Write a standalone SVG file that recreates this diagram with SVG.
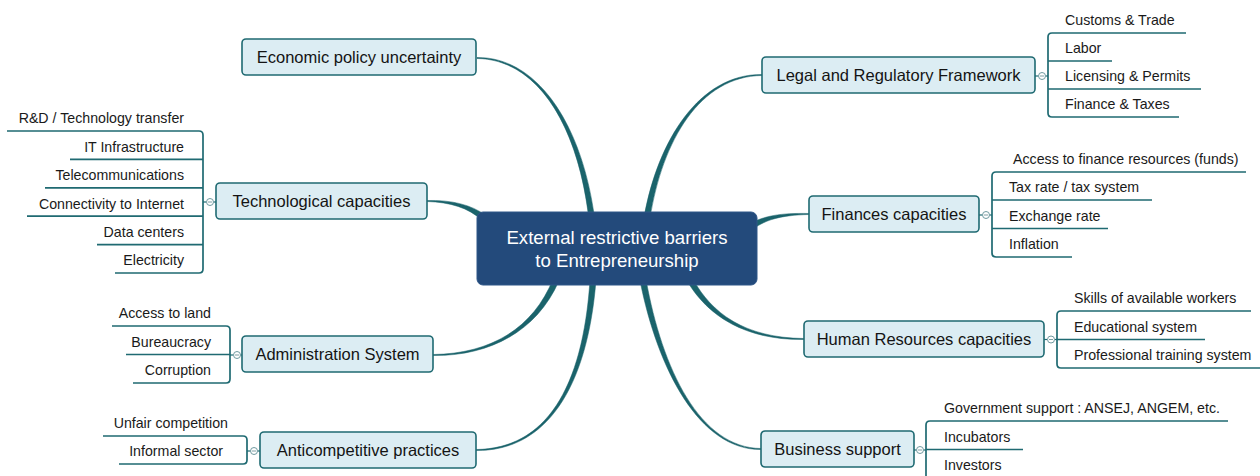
<svg xmlns="http://www.w3.org/2000/svg" width="1260" height="476" viewBox="0 0 1260 476">
<style>
.bg{fill:#ffffff}
.conn{fill:#1a636b;stroke:#1a636b;stroke-width:0.5;stroke-linejoin:round}
.box{fill:#dcedf3;stroke:#1f6a72;stroke-width:1.6}
.center{fill:#234a7b;stroke:#2f5688;stroke-width:1}
.ct{font-family:"Liberation Sans",Arial,sans-serif;font-size:18.6px;fill:#ffffff;text-anchor:middle}
.bt{font-family:"Liberation Sans",Arial,sans-serif;font-size:16.5px;fill:#141414;text-anchor:middle}
.lt{font-family:"Liberation Sans",Arial,sans-serif;font-size:14.2px;fill:#1a1a1a}
.le{text-anchor:end}
.br{fill:none;stroke:#1f6a72;stroke-width:1.7;stroke-linecap:butt}
.tog{fill:#ffffff;stroke:#6f9aa0;stroke-width:1}
.minus{stroke:#7f9ea3;stroke-width:1}
.stub{stroke:#1f6a72;stroke-width:1.2}
</style>
<rect class="bg" x="0" y="0" width="1260" height="476"/>

<g id="connectors">
<path class="conn" d="M477,58.5 C535,59.2 576,120.3 588.2,213.4 L593.8,212.6 C580,119.7 535,56.8 477,57.5 Z"/>
<path class="conn" d="M427,201.5 C450,202.2 468.6,207.7 482,220.3 L486,215.7 C471.4,204.3 450,199.8 427,200.5 Z"/>
<path class="conn" d="M433,355.5 C490,356.2 537,330.9 558.8,281.2 L553.2,278.8 C533,329.1 490,353.8 433,354.5 Z"/>
<path class="conn" d="M476,450.5 C545,451.2 587.2,390.2 596,280.2 L590,279.8 C582.8,389.8 545,448.8 476,449.5 Z"/>
<path class="conn" d="M762,74.5 C700,73.8 657.8,139.6 644,217.5 L650,218.5 C662.2,140.4 700,76.2 762,75.5 Z"/>
<path class="conn" d="M809,213.5 C780,212.8 763.9,216.1 750.4,223.5 L753.6,228.5 C766.1,219.9 780,215.2 809,214.5 Z"/>
<path class="conn" d="M804,338.5 C745,337.8 711.9,313.9 692.6,278.5 L687.4,281.5 C708.1,316.1 745,340.2 804,339.5 Z"/>
<path class="conn" d="M761,448.5 C700,447.8 662.2,369.6 646,279.4 L640,280.6 C657.8,370.4 700,450.2 761,449.5 Z"/>
</g>

<g id="central">
<rect class="center" x="477" y="212" width="280" height="73" rx="6"/>
<text class="ct" x="617" y="244.2">External restrictive barriers</text>
<text class="ct" x="617" y="266.8">to Entrepreneurship</text>
</g>

<g id="economic">
<rect class="box" x="242" y="39" width="234" height="36" rx="4"/>
<text class="bt" x="359" y="63.3">Economic policy uncertainty</text>
</g>

<g id="technological">
<rect class="box" x="216" y="183" width="211" height="36" rx="4"/>
<text class="bt" x="321.5" y="207.3">Technological capacities</text>
<line class="stub" x1="213.5" y1="202" x2="216" y2="202"/>
<line class="stub" x1="203" y1="202" x2="206.5" y2="202"/>
<circle class="tog" cx="210" cy="202" r="3.5"/>
<line class="minus" x1="208" y1="202" x2="212" y2="202"/>
<path class="br" d="M7,131 H199 Q203,131 203,135 V269 Q203,273 199,273 H115"/>
<path class="br" d="M70,159.4 H203 M45,187.8 H203 M27,216.2 H203 M97,244.6 H203"/>
<text class="lt le" x="184" y="123.3">R&amp;D / Technology transfer</text>
<text class="lt le" x="184" y="151.7">IT Infrastructure</text>
<text class="lt le" x="184" y="180.1">Telecommunications</text>
<text class="lt le" x="184" y="208.5">Connectivity to Internet</text>
<text class="lt le" x="184" y="236.9">Data centers</text>
<text class="lt le" x="184" y="265.3">Electricity</text>
</g>

<g id="administration">
<rect class="box" x="242" y="336" width="191" height="36" rx="4"/>
<text class="bt" x="337.5" y="360.3">Administration System</text>
<line class="stub" x1="240.5" y1="355" x2="242" y2="355"/>
<line class="stub" x1="230" y1="355" x2="233.5" y2="355"/>
<circle class="tog" cx="237" cy="355" r="3.5"/>
<line class="minus" x1="235" y1="355" x2="239" y2="355"/>
<path class="br" d="M112,326 H226 Q230,326 230,330 V379 Q230,383 226,383 H133"/>
<path class="br" d="M126,354.5 H230"/>
<text class="lt le" x="211" y="318.3">Access to land</text>
<text class="lt le" x="211" y="346.8">Bureaucracy</text>
<text class="lt le" x="211" y="375.3">Corruption</text>
</g>

<g id="anticompetitive">
<rect class="box" x="260" y="432" width="216" height="36" rx="4"/>
<text class="bt" x="368" y="456.3">Anticompetitive practices</text>
<line class="stub" x1="257.5" y1="451" x2="260" y2="451"/>
<line class="stub" x1="247" y1="451" x2="250.5" y2="451"/>
<circle class="tog" cx="254" cy="451" r="3.5"/>
<line class="minus" x1="252" y1="451" x2="256" y2="451"/>
<path class="br" d="M103,436 H243 Q247,436 247,440 V460 Q247,464 243,464 H119"/>
<text class="lt le" x="228" y="428.3">Unfair competition</text>
<text class="lt le" x="223" y="456.3">Informal sector</text>
</g>

<g id="legal">
<rect class="box" x="762" y="57" width="273" height="36" rx="4"/>
<text class="bt" x="898.5" y="81.3">Legal and Regulatory Framework</text>
<line class="stub" x1="1035" y1="76" x2="1038.5" y2="76"/>
<line class="stub" x1="1045.5" y1="76" x2="1048" y2="76"/>
<circle class="tog" cx="1042" cy="76" r="3.5"/>
<line class="minus" x1="1040" y1="76" x2="1044" y2="76"/>
<path class="br" d="M1186,33 H1052 Q1048,33 1048,37 V113 Q1048,117 1052,117 H1179"/>
<path class="br" d="M1048,61 H1112 M1048,89 H1201"/>
<text class="lt" x="1065" y="25.3">Customs &amp; Trade</text>
<text class="lt" x="1065" y="53.3">Labor</text>
<text class="lt" x="1065" y="81.3">Licensing &amp; Permits</text>
<text class="lt" x="1065" y="109.3">Finance &amp; Taxes</text>
</g>

<g id="finances">
<rect class="box" x="809" y="196" width="170" height="36" rx="4"/>
<text class="bt" x="894" y="220.3">Finances capacities</text>
<line class="stub" x1="979" y1="215" x2="982.5" y2="215"/>
<line class="stub" x1="989.5" y1="215" x2="992" y2="215"/>
<circle class="tog" cx="986" cy="215" r="3.5"/>
<line class="minus" x1="984" y1="215" x2="988" y2="215"/>
<path class="br" d="M1246,172 H996 Q992,172 992,176 V253 Q992,257 996,257 H1072"/>
<path class="br" d="M992,200 H1152 M992,228.5 H1108"/>
<text class="lt" x="1013" y="164.3">Access to finance resources (funds)</text>
<text class="lt" x="1009" y="192.3">Tax rate / tax system</text>
<text class="lt" x="1009" y="220.8">Exchange rate</text>
<text class="lt" x="1009" y="249.3">Inflation</text>
</g>

<g id="human-resources">
<rect class="box" x="804" y="321" width="240" height="36" rx="4"/>
<text class="bt" x="924" y="345.3">Human Resources capacities</text>
<line class="stub" x1="1044" y1="339.5" x2="1047.5" y2="339.5"/>
<line class="stub" x1="1054.5" y1="339.5" x2="1057" y2="339.5"/>
<circle class="tog" cx="1051" cy="339.5" r="3.5"/>
<line class="minus" x1="1049" y1="339.5" x2="1053" y2="339.5"/>
<path class="br" d="M1251,311 H1061 Q1057,311 1057,315 V364 Q1057,368 1061,368 H1262"/>
<path class="br" d="M1057,339.5 H1205"/>
<text class="lt" x="1074" y="303.3">Skills of available workers</text>
<text class="lt" x="1074" y="331.8">Educational system</text>
<text class="lt" x="1074" y="360.3">Professional training system</text>
</g>

<g id="business">
<rect class="box" x="761" y="431" width="153" height="36" rx="4"/>
<text class="bt" x="837.5" y="455.3">Business support</text>
<line class="stub" x1="914" y1="450" x2="916.5" y2="450"/>
<line class="stub" x1="923.5" y1="450" x2="926" y2="450"/>
<circle class="tog" cx="920" cy="450" r="3.5"/>
<line class="minus" x1="918" y1="450" x2="922" y2="450"/>
<path class="br" d="M1228,421 H930 Q926,421 926,425 V480"/>
<path class="br" d="M926,449.5 H1023"/>
<text class="lt" x="944" y="413.3">Government support : ANSEJ, ANGEM, etc.</text>
<text class="lt" x="944" y="441.8">Incubators</text>
<text class="lt" x="944" y="470.3">Investors</text>
</g>
</svg>
